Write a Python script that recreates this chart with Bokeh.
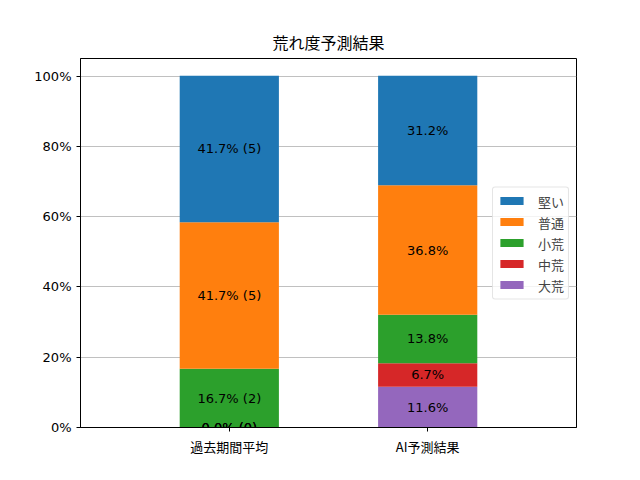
from bokeh.plotting import figure
from bokeh.models import ColumnDataSource, Range1d, FixedTicker, Legend, LegendItem, Label
from bokeh.embed import file_html
from bokeh.resources import INLINE

# ---- data ----
categories = ["過去期間平均", "AI予測結果"]
levels = ["大荒", "中荒", "小荒", "普通", "堅い"]          # stack order, bottom to top
colors = ["#9467bd", "#d62728", "#2ca02c", "#ff7f0e", "#1f77b4"]
past_pct = [0.0, 0.0, 16.7, 41.7, 41.7]
past_count = [0, 0, 2, 5, 5]
ai_pct = [11.6, 6.7, 13.8, 36.8, 31.2]
yticks = [0, 20, 40, 60, 80, 100]
title_text = "荒れ度予測結果"

LATIN = "DejaVu Sans"
CJK = "Noto Sans CJK JP"

xs = list(range(len(categories)))
data = {"x": xs}
for i, lev in enumerate(levels):
    data[lev] = [past_pct[i], ai_pct[i]]
src = ColumnDataSource(data)

p = figure(width=624, height=464, output_backend="svg", toolbar_location=None,
           x_range=Range1d(-0.75, 1.75), y_range=Range1d(0, 105),
           min_border_left=80, min_border_right=48, min_border_top=58, min_border_bottom=37,
           title=title_text)

p.title.align = "center"
p.title.text_font = CJK
p.title.text_font_size = "16px"
p.title.text_font_style = "normal"
p.title.text_color = "#000000"

renderers = p.vbar_stack(levels, x="x", width=0.5, color=colors, line_color=None, source=src)

# value labels at the centre of each segment
bottoms = [0.0, 0.0]
for i, lev in enumerate(levels):
    vals = [past_pct[i], ai_pct[i]]
    for j in range(2):
        if j == 0:
            txt = f"{vals[j]:.1f}% ({past_count[i]})"
        else:
            txt = f"{vals[j]:.1f}%"
        p.add_layout(Label(x=xs[j], y=bottoms[j] + vals[j] / 2, text=txt,
                           text_align="center", text_baseline="middle",
                           text_font=LATIN, text_font_size="13px", text_color="#000000"))
        bottoms[j] += vals[j]

# axes
p.xaxis.ticker = FixedTicker(ticks=xs)
p.xaxis.major_label_overrides = {x: c for x, c in zip(xs, categories)}
p.yaxis.ticker = FixedTicker(ticks=yticks)
p.yaxis.major_label_overrides = {t: f"{t}%" for t in yticks}
p.xaxis.major_label_text_font = CJK
p.yaxis.major_label_text_font = LATIN
for ax in (p.xaxis, p.yaxis):
    ax.major_label_text_font_size = "13px"
    ax.major_label_text_color = "#000000"
    ax.axis_line_color = "#000000"
    ax.major_tick_line_color = "#000000"
    ax.major_tick_out = 4
    ax.major_tick_in = 0
    ax.minor_tick_line_color = None
    ax.major_label_standoff = 5
p.xgrid.grid_line_color = None
p.ygrid.grid_line_color = "#b0b0b0"
p.ygrid.grid_line_width = 0.8
p.outline_line_color = "#000000"
p.outline_line_alpha = 1
p.background_fill_color = "white"
p.border_fill_color = "white"

items = [LegendItem(label=levels[i], renderers=[renderers[i]]) for i in reversed(range(len(levels)))]
legend = Legend(items=items, location="right")
legend.label_text_font = CJK
legend.label_text_font_size = "13px"
legend.glyph_width = 29
legend.glyph_height = 10
legend.label_height = 15
legend.spacing = 2
legend.padding = 4
legend.margin = 7
legend.label_standoff = 12
legend.border_line_color = "#cccccc"
legend.background_fill_alpha = 0.8
legend.border_radius = 3
p.add_layout(legend, "center")

open("out.html", "w").write(file_html(p, INLINE))
